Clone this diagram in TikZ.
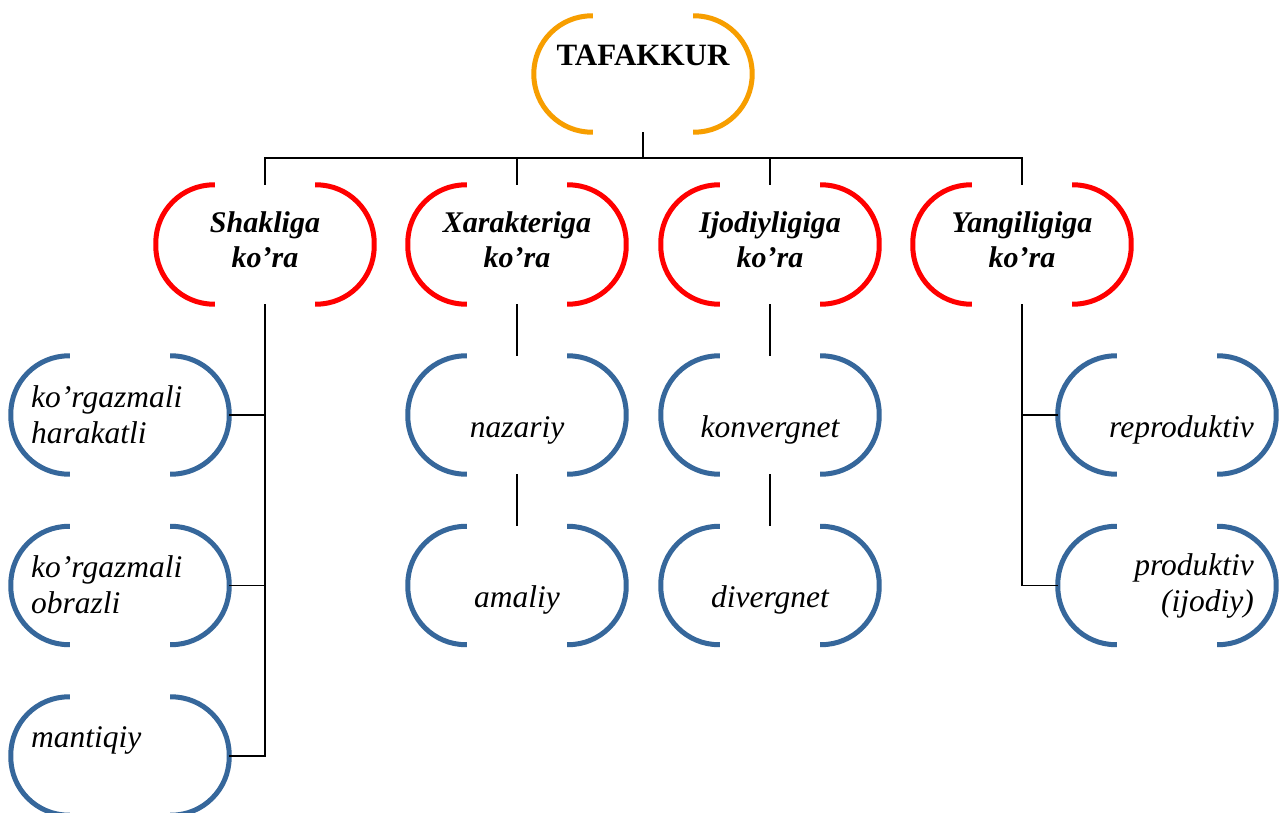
\documentclass[tikz,border=0pt]{standalone}
\usepackage{fontspec}
\setmainfont{Liberation Serif}
\definecolor{corange}{RGB}{247,158,0}
\definecolor{cred}{RGB}{255,0,0}
\definecolor{cblue}{RGB}{54,103,155}
\newcommand\bk[2]{%
  \draw[#2,line width=5pt,rounded corners=58pt]
    ([xshift=59pt]#1.north west) -- (#1.north west) -- (#1.south west) -- ([xshift=59pt]#1.south west);
  \draw[#2,line width=5pt,rounded corners=58pt]
    ([xshift=-59pt]#1.north east) -- (#1.north east) -- (#1.south east) -- ([xshift=-59pt]#1.south east);}
\begin{document}
\begin{tikzpicture}[x=1pt,y=-1pt,
  boxnode/.style={rectangle,minimum width=218pt,minimum height=118pt,inner sep=0pt},
  blbl/.style={inner sep=0pt,font=\fontsize{30}{35}\selectfont\bfseries\itshape,align=center},
  ilbl/.style={inner sep=0pt,font=\fontsize{31.5}{36}\selectfont\itshape},
  conn/.style={black,line width=1.8pt}]
\useasboundingbox (0,0) rectangle (1280,813);
\fill[white] (0,0) rectangle (1280,813);
% top
\node[boxnode,minimum height=116pt] (T) at (643,74) {};
\bk{T}{corange}
\node[inner sep=0pt,font=\fontsize{31}{36}\selectfont\bfseries] (tT) at (643,55) {TAFAKKUR};
% red level
\foreach \n/\x in {s1/265,s2/517,s3/770,s4/1022}{
  \node[boxnode,minimum height=119pt] (\n) at (\x,244.5) {};
  \bk{\n}{cred}
}
\node[blbl] (ts1) at (265,240) {Shakliga\\ko’ra};
\node[blbl] (ts2) at (517,240) {Xarakteriga\\ko’ra};
\node[blbl] (ts3) at (770,240) {Ijodiyligiga\\ko’ra};
\node[blbl] (ts4) at (1022,240) {Yangiligiga\\ko’ra};
% blue level
\foreach \n/\x/\y in {b11/120/415,b12/120/585.5,b13/120/756,b21/517/415,b22/517/585.5,b31/770/415,b32/770/585.5,b41/1167/415,b42/1167/585.5}{
  \node[boxnode] (\n) at (\x,\y) {};
  \bk{\n}{cblue}
}
\node[ilbl,align=left,anchor=west] (tb11) at (31,415) {ko’rgazmali\\harakatli};
\node[ilbl,align=left,anchor=west] (tb12) at (31,585) {ko’rgazmali\\obrazli};
\node[ilbl,anchor=west] (tb13) at (31,740) {mantiqiy};
\node[ilbl] (tb21) at (517,430) {nazariy};
\node[ilbl] (tb22) at (517,600) {amaliy};
\node[ilbl] (tb31) at (770,430) {konvergnet};
\node[ilbl] (tb32) at (770,600) {divergnet};
\node[ilbl,anchor=east] (tb41) at (1254,430) {reproduktiv};
\node[ilbl,align=right,anchor=east] (tb42) at (1254,585.5) {produktiv\\(ijodiy)};
% connectors
\coordinate (bus) at (643,158);
\draw[conn] (T.south) -- (bus);
\draw[conn] (s1.north) |- (bus) -| (s4.north);
\draw[conn] (s2.north) -- (s2.north |- bus);
\draw[conn] (s3.north) -- (s3.north |- bus);
\draw[conn] (s1.south) |- (b13.east);
\draw[conn] (b11.east) -- (b11.east -| s1.south);
\draw[conn] (b12.east) -- (b12.east -| s1.south);
\draw[conn] (s2.south) -- (b21.north);
\draw[conn] (b21.south) -- (b22.north);
\draw[conn] (s3.south) -- (b31.north);
\draw[conn] (b31.south) -- (b32.north);
\draw[conn] (s4.south) |- (b42.west);
\draw[conn] (b41.west) -- (b41.west -| s4.south);
\end{tikzpicture}
\end{document}
